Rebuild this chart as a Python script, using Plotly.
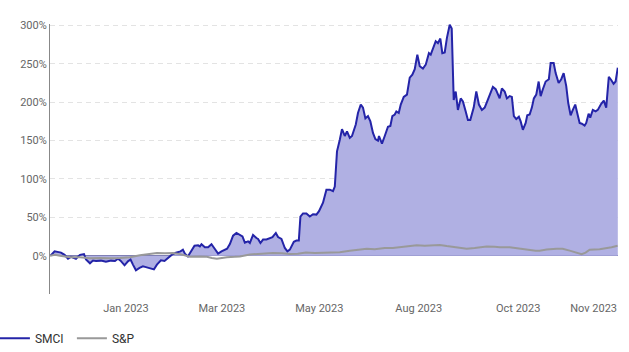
import plotly.graph_objects as go

# x unit: trading-session index from the first point of the period
smci_x = [0.3, 2.3, 5.5, 7.3, 9, 10.5, 13, 15, 17, 18, 20, 21.5, 23, 25.5, 28, 30.5, 32.5, 34, 35.3, 37.3,
          39, 40.3, 41.5, 43, 44.8, 46.5, 48, 50.3, 52, 53.5, 55.5, 57.3, 59, 61, 63, 65.3, 66.5, 67.5, 69, 70.5,
          72.3, 74.1, 75, 75.8, 77.5, 79.1, 80.8, 82.5, 84.1, 85.8, 87.5, 88.6, 90, 91.6, 93.3, 95, 96.3, 97.5,
          99.1, 100, 101.6, 103.3, 104.1, 105.3, 106.6, 108.3, 110, 111.3, 113, 114.1, 115.8, 117.5, 118.8, 120,
          122, 123.3, 124.5, 125.3, 126.6, 128.3, 130, 131.6, 133.3, 134.6, 136.6, 138.3, 140, 141.6, 142.5,
          143.6, 145, 146.1, 147.5, 148.6, 150, 151.1, 153, 154.1, 155.5, 156.6, 157.8, 159.1, 160.3, 161.6,
          162.8, 164.1, 164.6, 166.1, 167.5, 169.1, 170.3, 171.3, 172.5, 173.3, 174.5, 175.5, 177, 178.6, 180,
          181.3, 182.5, 183.8, 185, 186.6, 188, 189.6, 190.5, 191.6, 193, 194.1, 195.3, 196.3, 197.5, 198.6,
          200, 201, 202, 203, 204.1, 205.5, 206.6, 208, 209.1, 210.3, 212, 213.3, 214.6, 216.1, 217.5, 219.1,
          220.5, 221.6, 223, 225, 226.1, 227.5, 228.6, 230, 231.1, 232.1, 233.3, 234.6, 235.5, 236.6, 238,
          238.8, 240, 241.1, 242.1, 243.3, 244.5, 245.5, 246.6, 248, 249.6, 250.5, 252, 253, 254.5, 255.8, 257,
          258.3, 259.3, 260.5, 261.6, 262.8, 263.8, 265, 266.1, 267.5, 268.3, 269.5, 270.3, 271.6, 273, 274.1,
          275.8, 277.1, 278.3, 279.6, 280.8, 282, 283, 284.1]
smci_pct = [0, 5.6, 4, 1, -4, -1.5, -4, 1, 2, -5, -10, -6.5, -7, -6.5, -8, -6.5, -7, -4, -6.5, -12.6,
            -7.4, -5, -11.7, -19, -16, -14, -15, -17, -18, -11.7, -6, -7, -2.6, 1.3, 4, 5.6, 7.8, 2.6, -1, 5.6,
            13, 13.5, 12, 15, 11, 11, 15, 8.7, 2.6, 5.6, 7.8, 9, 15, 26, 29.6, 27, 25, 17,
            18.7, 16.5, 27, 23, 21.7, 16.5, 21, 21, 23, 24, 29.6, 24.3, 21.7, 10, 5.6, 7.8,
            18, 19.6, 19.6, 51, 55, 55, 51, 54, 53.5, 58, 69, 86, 86, 84, 90,
            136, 151, 165, 156, 162, 153.5, 156, 171, 186, 197, 193, 179, 182, 175, 160,
            152, 150, 156, 146, 156, 168, 169, 182, 184, 188, 186, 197, 207, 210, 232,
            236, 243, 262, 247, 244, 249, 264, 262, 271, 279.5, 277, 283, 264, 265, 284,
            301, 296, 203, 214, 190, 205, 201, 188, 177, 177, 193, 214, 197, 190, 193, 203.5,
            212, 220, 217, 205, 218, 214, 205, 208, 207, 182, 178, 181, 175, 164, 173,
            183, 184, 193, 205, 210, 227, 208, 217, 227, 230, 251, 251, 238, 225, 230, 238,
            221, 199, 183, 190, 197, 186, 173, 172, 169.6, 173, 185, 180, 190, 188, 190,
            198, 202, 193, 233, 229, 224, 227, 245]

sp_x = [0, 2.5, 5, 7.5, 10, 15, 20, 25, 30, 35, 40, 45, 50, 53.5, 57.5, 61.5, 65, 67.5, 70, 75, 78.5, 81,
        83.5, 86, 88.5, 92.5, 95, 100, 105, 111.5, 116, 120, 124, 128, 132.5, 137.5, 141.5, 145, 150, 155,
        158.5, 162.5, 167.5, 171.5, 175, 180, 183.5, 187.5, 191.5, 195, 198.5, 202.5, 205.5, 208.5, 212.5,
        215.5, 218.5, 222.5, 225, 230, 234, 238.5, 243, 245, 248.5, 253.5, 256.5, 260, 263, 266, 268, 270,
        275, 278.5, 281, 284]
sp_pct = [0, 1, 0, -1, -2, -2, -3.5, -3, -3.5, -3, -2, 0.5, 2, 3.5, 3, 3.5, 2, 0.5, -1.5, -1, -1.5, -3,
          -4, -3, -2, -1.5, -1, 1.5, 2.5, 3.5, 3, 2, 2.5, 4, 3.5, 4, 4.3, 4.5, 6.5, 8,
          9, 8.5, 10, 10, 11, 12.5, 13.5, 13, 13.5, 14, 12.5, 11, 10.5, 9, 10,
          11.5, 12, 11.5, 11, 11, 9.5, 7.8, 6.5, 6.5, 8, 9, 9, 6.5, 4.5, 2, 4, 7.8,
          8.5, 9.6, 11, 13]

x_tick_pos = [38, 86, 134.75, 184.5, 234.25, 272]
x_tick_labels = ["Jan 2023", "Mar 2023", "May 2023", "Aug 2023", "Oct 2023", "Nov 2023"]
y_tick_vals = [-50, 0, 50, 100, 150, 200, 250, 300]
y_tick_labels = ["", "0%", "50%", "100%", "150%", "200%", "250%", "300%"]

SMCI_LINE = "#2424a8"
SP_LINE = "#999999"

fig = go.Figure()
fig.add_trace(go.Scatter(
    x=smci_x, y=smci_pct, name="SMCI", mode="lines",
    line=dict(color=SMCI_LINE, width=2),
    fill="tozeroy", fillcolor="#b0b0e3", showlegend=False,
))
fig.add_trace(go.Scatter(
    x=sp_x, y=sp_pct, name="S&P", mode="lines",
    line=dict(color=SP_LINE, width=2), showlegend=False,
))
# legend entries (line-only keys)
fig.add_trace(go.Scatter(x=[None], y=[None], name="SMCI", mode="lines",
                         line=dict(color=SMCI_LINE, width=2)))
fig.add_trace(go.Scatter(x=[None], y=[None], name="S&P", mode="lines",
                         line=dict(color=SP_LINE, width=2)))

fig.update_layout(
    width=629, height=352,
    margin=dict(l=50, r=11, t=24, b=58, autoexpand=False),
    paper_bgcolor="white", plot_bgcolor="white",
    font=dict(family="Roboto", size=11, color="#666666"),
    showlegend=True,
    legend=dict(
        orientation="h", xref="paper", yref="paper",
        x=-0.097, y=-0.11, xanchor="left", yanchor="top",
        font=dict(size=12, color="#333333"),
        entrywidth=32, entrywidthmode="pixels",
        bgcolor="rgba(0,0,0,0)",
    ),
    xaxis=dict(
        range=[0, 284.2], showgrid=False, zeroline=False, showline=False,
        tickmode="array", tickvals=x_tick_pos, ticktext=x_tick_labels,
        ticks="outside", ticklen=4, tickcolor="rgba(0,0,0,0)",
        tickfont=dict(size=11, color="#666666"),
    ),
    yaxis=dict(
        range=[-50, 302], tickmode="array", tickvals=y_tick_vals, ticktext=y_tick_labels,
        showgrid=True, gridcolor="#e3e3e3", griddash="5px,4px", gridwidth=1,
        zeroline=True, zerolinecolor="#6f6fa6", zerolinewidth=1,
        showline=True, linecolor="#888888", linewidth=1,
        ticks="", tickfont=dict(size=11, color="#666666"),
    ),
)

fig.write_html("out.html")
